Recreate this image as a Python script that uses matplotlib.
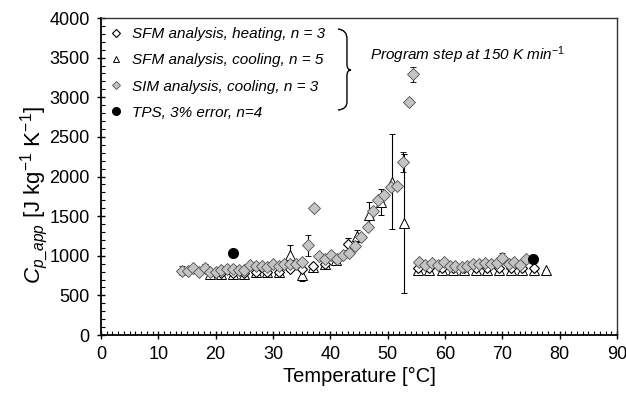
import matplotlib
matplotlib.use("Agg")
import matplotlib.pyplot as plt
from matplotlib.path import Path
from matplotlib.patches import PathPatch
from matplotlib.ticker import MultipleLocator

plt.rcParams['font.family'] = ['Liberation Sans', 'DejaVu Sans']
plt.rcParams['mathtext.fontset'] = 'custom'
plt.rcParams['mathtext.rm'] = 'Liberation Sans'
plt.rcParams['mathtext.it'] = 'Liberation Sans:italic'

# SIM analysis, cooling (grey diamonds)
sim_t = [14.1, 15.1, 16.1, 17.1, 18.1, 19.1, 20.1, 21.0, 22.0, 23.0, 24.0, 25.0,
         26.0, 27.0, 28.0, 29.0, 30.0, 31.0, 32.0, 33.0, 34.0, 35.0, 36.1, 37.2,
         38.1, 39.1, 40.2, 41.2, 42.3, 43.3, 44.3, 45.4, 46.5, 47.4, 48.4, 49.4,
         50.5, 51.6, 52.6, 53.7, 54.5,
         55.5, 56.6, 57.7, 58.7, 59.8, 60.8, 61.8, 62.9, 63.9, 64.9, 66.0, 67.0,
         68.0, 69.0, 70.0, 71.1, 72.1, 73.1, 74.1]
sim_cp = [810, 810, 850, 800, 840, 800, 800, 820, 830, 830, 820, 820,
          880, 870, 870, 860, 900, 870, 900, 890, 890, 920, 1130, 1600,
          1000, 955, 1005, 960, 1015, 1035, 1120, 1240, 1366, 1565, 1700, 1770,
          1870, 1885, 2180, 2945, 3290,
          917, 883, 904, 883, 917, 875, 875, 862, 875, 896, 896, 904,
          892, 904, 975, 892, 925, 883, 955]
sim_err = [55, 0, 0, 0, 60, 0, 0, 0, 0, 0, 0, 0,
           0, 0, 40, 0, 0, 0, 0, 0, 0, 0, 130, 0,
           0, 0, 0, 0, 0, 0, 0, 0, 0, 0, 0, 0,
           0, 0, 125, 0, 95,
           0, 0, 0, 0, 0, 0, 0, 0, 0, 0, 0, 0,
           0, 0, 60, 0, 0, 0, 0]

# SFM analysis, heating (open diamonds)
heat_t = [21, 23, 25, 27, 29, 31, 33, 35, 37, 39, 41, 43,
          55.3, 57.2, 59.4, 61.4, 63.3, 65.4, 67.4, 69.5, 71.5, 73.5, 75.6]
heat_cp = [785, 785, 785, 800, 800, 800, 830, 830, 870, 900, 960, 1150,
           850, 850, 850, 850, 850, 850, 850, 850, 850, 850, 850]
heat_err = [0, 0, 0, 0, 0, 0, 0, 0, 0, 0, 0, 80,
            0, 0, 0, 0, 0, 0, 0, 0, 0, 0, 0]

# SFM analysis, cooling (open triangles)
cool_t = [19.1, 21, 23, 25, 27, 29, 31, 33, 35, 37, 39, 41, 44.7, 46.7, 48.8,
          50.7, 52.9,
          55.3, 57.2, 59.4, 61.4, 63.3, 65.4, 67.4, 69.5, 71.5, 73.5, 75.6, 77.6]
cool_cp = [765, 770, 770, 770, 790, 790, 790, 1010, 760, 860, 900, 950, 1250,
           1514, 1680, 1935, 1410,
           820, 820, 820, 820, 820, 820, 820, 820, 820, 820, 820, 820]
cool_err = [0, 0, 0, 0, 0, 0, 0, 130, 75, 0, 0, 0, 75, 170, 160, 600, 880,
            0, 0, 0, 0, 0, 0, 0, 0, 0, 0, 0, 0]

# TPS measurements
tps_t = [23.0, 75.3]
tps_cp = [1030, 965]

labels = ['SFM analysis, heating, n = 3', 'SFM analysis, cooling, n = 5',
          'SIM analysis, cooling, n = 3', 'TPS, 3% error, n=4']

fig = plt.figure(figsize=(6.26, 3.94), dpi=100)
ax = fig.add_axes([0.1613, 0.1497, 0.8243, 0.8046])

eb = dict(ls='none', ecolor='black', elinewidth=0.8, capsize=2.5, capthick=0.8)

ax.errorbar(cool_t, cool_cp, yerr=cool_err, marker='^', ms=6.5, mfc='white',
            mec='black', mew=0.7, zorder=3, **eb)
ax.errorbar(heat_t, heat_cp, yerr=heat_err, marker='D', ms=5, mfc='white',
            mec='black', mew=0.8, zorder=4, **eb)
ax.errorbar(sim_t, sim_cp, yerr=sim_err, marker='D', ms=6, mfc='#c4c4c4',
            mec='#505050', mew=0.6, zorder=5, **eb)
ax.plot(tps_t, tps_cp, ls='none', marker='o', ms=7, mfc='black', mec='black',
        zorder=6)

ax.set_xlim(0, 90)
ax.set_ylim(0, 4000)
ax.xaxis.set_major_locator(MultipleLocator(10))
ax.xaxis.set_minor_locator(MultipleLocator(1))
ax.yaxis.set_major_locator(MultipleLocator(500))
ax.yaxis.set_minor_locator(MultipleLocator(100))
ax.tick_params(which='major', direction='inout', length=6, width=1,
               labelsize=13)
ax.tick_params(axis='x', which='major', pad=5)
ax.tick_params(axis='y', which='major', pad=5)
ax.tick_params(which='minor', direction='in', length=3, width=0.8)
ax.tick_params(top=False, right=False, which='both')

for s in ['left', 'bottom']:
    ax.spines[s].set_linewidth(1.3)
for s in ['top', 'right']:
    ax.spines[s].set_linewidth(1.0)
    ax.spines[s].set_color('#333333')

ax.set_xlabel('Temperature [°C]', fontsize=14.5, labelpad=3)
ax.set_ylabel(r'$\mathit{C}_{\mathit{p\_app}}$ [J kg$^{-1}$ K$^{-1}$]',
              fontsize=16, va='center')
ax.yaxis.set_label_coords(-0.128, 0.44)

# legend entries
hs = [
    ax.plot([], [], ls='none', marker='D', ms=4, mfc='white', mec='black', mew=0.8)[0],
    ax.plot([], [], ls='none', marker='^', ms=5, mfc='white', mec='black', mew=0.7)[0],
    ax.plot([], [], ls='none', marker='D', ms=4, mfc='#c4c4c4', mec='#505050', mew=0.6)[0],
    ax.plot([], [], ls='none', marker='o', ms=5.5, mfc='black', mec='black')[0],
]
leg = ax.legend(hs, labels, loc='upper left', frameon=False,
                prop={'style': 'italic', 'size': 11}, handlelength=0.8,
                handletextpad=0.6, labelspacing=0.8, borderaxespad=0.2,
                bbox_to_anchor=(0.0, 1.0))

# brace grouping the legend entries
verts = [(0.4593, 0.9653), (0.4767, 0.962), (0.4767, 0.935),
         (0.4767, 0.855),
         (0.4767, 0.836), (0.4845, 0.836),
         (0.4767, 0.836), (0.4767, 0.817),
         (0.4767, 0.735),
         (0.4767, 0.712), (0.4593, 0.7098)]
codes = [Path.MOVETO, Path.CURVE3, Path.CURVE3,
         Path.LINETO,
         Path.CURVE3, Path.CURVE3,
         Path.CURVE3, Path.CURVE3,
         Path.LINETO,
         Path.CURVE3, Path.CURVE3]
ax.add_patch(PathPatch(Path(verts, codes), fill=False, lw=1.0, ec='black',
                       transform=ax.transAxes))

ax.text(47.0, 3530, r'Program step at 150 K min$^{\mathit{-1}}$', style='italic',
        fontsize=11, va='center', ha='left')

fig.savefig('out.png', dpi=100)
